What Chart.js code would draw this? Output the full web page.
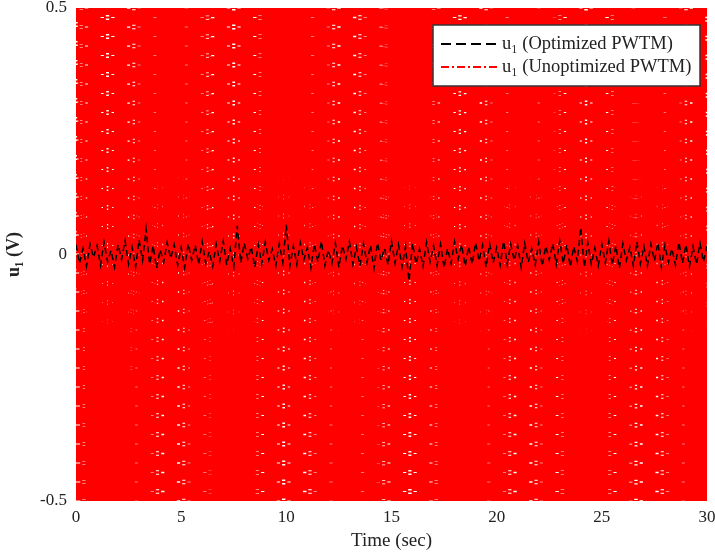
<!DOCTYPE html>
<html>
<head>
<meta charset="utf-8">
<script src="https://cdn.jsdelivr.net/npm/chart.js@4/dist/chart.umd.min.js"></script>
<style>
  html, body { margin: 0; padding: 0; background: #fff; }
  #wrap { width: 715px; height: 556px; }
</style>
</head>
<body>
<div id="wrap"><canvas id="u1-chart"></canvas></div>
<script>
// u1 with optimized PWTM: small chatter around zero (sampled every 1/6 s)
const optimizedU1 = [
  0.02, -0.018, 0.012, -0.024, 0.021, -0.006, 0.018, -0.022, 0.025, -0.015, 0.008, -0.026, 0.02, -0.01, 0.028, -0.02, 0.015, -0.025, 0.03, -0.012,
  0.052, -0.02, 0.018, -0.028, 0.01, -0.016, 0.024, -0.008, 0.02, -0.022, 0.014, -0.027, 0.022, -0.012, 0.019, -0.02, 0.026, -0.018, 0.006, -0.024,
  0.021, -0.014, 0.027, -0.021, 0.012, -0.025, 0.058, -0.017, 0.023, -0.009, 0.016, -0.026, 0.02, -0.019, 0.025, -0.012, 0.011, -0.023, 0.022, -0.016,
  0.06, -0.024, 0.017, -0.02, 0.024, -0.011, 0.014, -0.027, 0.021, -0.015, 0.027, -0.022, 0.009, -0.018, 0.023, -0.026, 0.018, -0.01, 0.026, -0.02,
  0.015, -0.023, 0.022, -0.016, 0.019, -0.028, 0.024, -0.012, 0.013, -0.021, 0.027, -0.017, 0.02, -0.025, 0.016, -0.054, 0.023, -0.019, 0.011, -0.024,
  0.025, -0.015, 0.018, -0.022, 0.021, -0.027, 0.012, -0.018, 0.026, -0.01, 0.02, -0.024, 0.016, -0.02, 0.024, -0.013, 0.019, -0.026, 0.022, -0.017,
  0.014, -0.022, 0.027, -0.019, 0.021, -0.012, 0.018, -0.027, 0.023, -0.016, 0.012, -0.021, 0.025, -0.024, 0.017, -0.011, 0.022, -0.02, 0.028, -0.018,
  0.02, -0.025, 0.016, -0.014, 0.055, -0.026, 0.024, -0.02, 0.013, -0.023, 0.021, -0.017, 0.027, -0.021, 0.018, -0.028, 0.022, -0.012, 0.015, -0.024,
  0.026, -0.019, 0.017, -0.023, 0.021, -0.013, 0.024, -0.026, 0.019, -0.016, 0.012, -0.022, 0.025, -0.018, 0.02, -0.024, 0.016, -0.02, 0.023, -0.015,
  0.018
];

// u1 with unoptimized PWTM: switches between the +/-0.5 V limits (sampled every 1/8 s)
const unoptimizedU1 = [
  0.5, -0.5, 0.5, -0.5, 0.5, -0.5, 0.5, -0.5, 0.5, -0.5, 0.5, -0.5, 0.5, -0.5, 0.5, -0.5, 0.5, -0.5, 0.5, -0.5,
  0.5, -0.5, 0.5, -0.5, 0.5, -0.5, 0.5, -0.5, 0.5, -0.5, 0.5, -0.5, 0.5, -0.5, 0.5, -0.5, 0.5, -0.5, 0.5, -0.5,
  0.5, -0.5, 0.5, -0.5, 0.5, -0.5, 0.5, -0.5, 0.5, -0.5, 0.5, -0.5, 0.5, -0.5, 0.5, -0.5, 0.5, -0.5, 0.5, -0.5,
  0.5, -0.5, 0.5, -0.5, 0.5, -0.5, 0.5, -0.5, 0.5, -0.5, 0.5, -0.5, 0.5, -0.5, 0.5, -0.5, 0.5, -0.5, 0.5, -0.5,
  0.5, -0.5, 0.5, -0.5, 0.5, -0.5, 0.5, -0.5, 0.5, -0.5, 0.5, -0.5, 0.5, -0.5, 0.5, -0.5, 0.5, -0.5, 0.5, -0.5,
  0.5, -0.5, 0.5, -0.5, 0.5, -0.5, 0.5, -0.5, 0.5, -0.5, 0.5, -0.5, 0.5, -0.5, 0.5, -0.5, 0.5, -0.5, 0.5, -0.5,
  0.5, -0.5, 0.5, -0.5, 0.5, -0.5, 0.5, -0.5, 0.5, -0.5, 0.5, -0.5, 0.5, -0.5, 0.5, -0.5, 0.5, -0.5, 0.5, -0.5,
  0.5, -0.5, 0.5, -0.5, 0.5, -0.5, 0.5, -0.5, 0.5, -0.5, 0.5, -0.5, 0.5, -0.5, 0.5, -0.5, 0.5, -0.5, 0.5, -0.5,
  0.5, -0.5, 0.5, -0.5, 0.5, -0.5, 0.5, -0.5, 0.5, -0.5, 0.5, -0.5, 0.5, -0.5, 0.5, -0.5, 0.5, -0.5, 0.5, -0.5,
  0.5, -0.5, 0.5, -0.5, 0.5, -0.5, 0.5, -0.5, 0.5, -0.5, 0.5, -0.5, 0.5, -0.5, 0.5, -0.5, 0.5, -0.5, 0.5, -0.5,
  0.5, -0.5, 0.5, -0.5, 0.5, -0.5, 0.5, -0.5, 0.5, -0.5, 0.5, -0.5, 0.5, -0.5, 0.5, -0.5, 0.5, -0.5, 0.5, -0.5,
  0.5, -0.5, 0.5, -0.5, 0.5, -0.5, 0.5, -0.5, 0.5, -0.5, 0.5, -0.5, 0.5, -0.5, 0.5, -0.5, 0.5, -0.5, 0.5, -0.5,
  0.5
];

const xTicks = [0, 5, 10, 15, 20, 25, 30];
const yTicks = [-0.5, 0, 0.5];
const yTickLabels = ["-0.5", "0", "0.5"];
const seriesLabels = ["u\u2081 (Optimized PWTM)", "u\u2081 (Unoptimized PWTM)"];
const endTime = 30;

// pair each sample with its time stamp (samples are evenly spaced over 0..30 s)
function toPoints(values) {
  const dt = endTime / (values.length - 1);
  return values.map((v, i) => ({ x: i * dt, y: v }));
}

const serif = "'Liberation Serif', 'DejaVu Serif', serif";

// legend box drawn inside the top-right of the plot, like the original figure
const boxLegend = {
  id: "boxLegend",
  afterDraw(chart) {
    const ctx = chart.ctx;
    const area = chart.chartArea;
    const w = 267, h = 61;
    const x0 = area.right - 7 - w;
    const y0 = area.top + 17;
    ctx.save();
    ctx.fillStyle = "#fff";
    ctx.fillRect(x0, y0, w, h);
    ctx.strokeStyle = "#333";
    ctx.lineWidth = 1.5;
    ctx.setLineDash([]);
    ctx.strokeRect(x0, y0, w, h);
    chart.data.datasets.forEach((ds, i) => {
      const y = y0 + 19 + i * 23;
      ctx.beginPath();
      ctx.setLineDash(ds.legendDash);
      ctx.strokeStyle = ds.borderColor;
      ctx.lineWidth = 2;
      ctx.moveTo(x0 + 8, y);
      ctx.lineTo(x0 + 64, y);
      ctx.stroke();
      ctx.setLineDash([]);
      ctx.fillStyle = "#222";
      ctx.font = "18.5px " + serif;
      ctx.textBaseline = "middle";
      ctx.fillText(ds.label, x0 + 69, y);
    });
    ctx.restore();
  }
};

const ctx = document.getElementById("u1-chart").getContext("2d");
new Chart(ctx, {
  type: "line",
  data: {
    datasets: [
      {
        label: seriesLabels[0],
        data: toPoints(optimizedU1),
        borderColor: "#000000",
        borderWidth: 1.5,
        borderDash: [6, 4],
        legendDash: [10, 5],
        pointRadius: 0,
        fill: false,
        tension: 0,
      },
      {
        label: seriesLabels[1],
        data: toPoints(unoptimizedU1),
        borderColor: "#ff0000",
        borderWidth: 7,
        borderDash: [14, 1.5, 2, 1.5],
        legendDash: [8, 3, 2, 3],
        pointRadius: 0,
        fill: false,
        tension: 0,
      },
    ],
  },
  options: {
    responsive: true,
    maintainAspectRatio: false,
    animation: false,
    layout: { padding: { top: 8, right: 8, left: 0, bottom: 0 } },
    plugins: {
      legend: { display: false },
      tooltip: { enabled: false },
    },
    scales: {
      x: {
        type: "linear",
        min: 0,
        max: endTime,
        afterBuildTicks: (axis) => { axis.ticks = xTicks.map((v) => ({ value: v })); },
        afterFit: (axis) => {
          axis.height = 55;
          axis.paddingLeft = 0;
          axis.paddingRight = 0;
        },
        grid: { display: false, drawTicks: false },
        border: { display: false },
        ticks: {
          color: "#222",
          font: { family: serif, size: 17 },
          padding: 6,
          maxRotation: 0,
        },
        title: {
          display: true,
          text: "Time (sec)",
          color: "#222",
          font: { family: serif, size: 19 },
          padding: { top: 0 },
        },
      },
      y: {
        min: -0.5,
        max: 0.5,
        afterBuildTicks: (axis) => { axis.ticks = yTicks.map((v) => ({ value: v })); },
        afterFit: (axis) => {
          axis.width = 76;
          axis.paddingTop = 0;
          axis.paddingBottom = 0;
        },
        grid: { display: false, drawTicks: false },
        border: { display: false },
        ticks: {
          color: "#222",
          font: { family: serif, size: 17 },
          padding: 9,
          callback: (v) => yTickLabels[yTicks.indexOf(v)],
        },
        title: {
          display: true,
          text: "u\u2081 (V)",
          color: "#222",
          font: { family: serif, size: 18, weight: "bold" },
          padding: { bottom: 10 },
        },
      },
    },
  },
  plugins: [boxLegend],
});
</script>
</body>
</html>
